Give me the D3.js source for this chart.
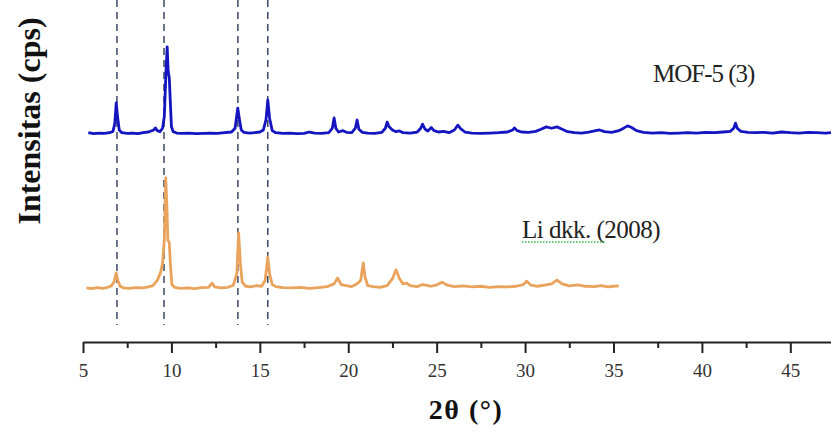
<!DOCTYPE html>
<html>
<head>
<meta charset="utf-8">
<script src="https://cdn.jsdelivr.net/npm/d3@7"></script>
<style>
  body { margin: 0; background: #fff; }
  svg { display: block; }
</style>
</head>
<body>
<div id="viz"></div>
<script>
// Data: 2theta (deg) and displayed intensity (stacked, arbitrary cps).
var mofTheta = [5.3,5.6,5.9,6.2,6.5,6.7,6.8,6.88,6.95,7.05,7.2,7.5,7.8,8.1,8.4,8.7,9.0,9.1,9.2,9.35,9.5,9.6,9.7,9.76,9.82,9.88,9.94,10.0,10.1,10.3,10.6,11,11.4,11.8,12.2,12.6,13.0,13.4,13.6,13.75,13.85,13.95,14.1,14.4,14.7,15.0,15.2,15.35,15.45,15.55,15.7,15.9,16.3,16.7,17.1,17.5,17.8,18.1,18.5,18.9,19.1,19.2,19.3,19.45,19.7,19.9,20.2,20.4,20.5,20.6,20.8,21.1,21.5,21.9,22.1,22.2,22.3,22.5,22.7,22.9,23.1,23.5,23.9,24.1,24.2,24.35,24.5,24.7,24.85,25.1,25.4,25.7,26.0,26.2,26.35,26.6,27,27.5,28,28.5,29,29.3,29.4,29.55,29.8,30.2,30.6,30.9,31.2,31.5,31.8,32.1,32.4,32.8,33.2,33.6,34.0,34.2,34.5,34.9,35.3,35.6,35.8,36.0,36.3,36.7,37.2,37.7,38.2,38.7,39.2,39.7,40.2,40.7,41.2,41.6,41.8,41.9,42.0,42.2,42.6,43.0,43.5,44,44.5,45,45.5,46,46.5,47,47.3];
var mofInt = [612,609,611,610,612,616,640,699,660,620,612,610,611,609,612,614,620,626,618,615,625,660,800,863,790,772,700,630,615,611,610,611,609,610,611,610,612,614,625,684,650,620,613,611,612,614,620,650,708,655,618,612,610,611,609,610,614,611,610,612,625,655,625,614,618,613,612,625,649,622,613,611,610,613,625,643,630,620,615,617,612,611,614,625,637,622,617,627,618,614,616,612,620,634,624,614,611,610,611,612,614,620,626,618,614,613,616,622,629,625,629,622,615,612,611,614,618,620,615,613,618,626,632,628,618,613,611,612,610,611,612,611,613,612,614,616,625,640,625,616,613,612,613,611,614,612,611,613,612,611,612];

var liTheta = [5.2,5.5,5.8,6.1,6.4,6.6,6.75,6.88,6.97,7.1,7.3,7.6,8.0,8.4,8.7,8.95,9.2,9.4,9.5,9.6,9.68,9.74,9.8,9.88,9.95,10.03,10.2,10.5,10.9,11.3,11.7,12.1,12.3,12.45,12.8,13.2,13.5,13.7,13.8,13.9,14.0,14.2,14.5,14.8,15.1,15.3,15.45,15.55,15.7,15.9,16.3,16.8,17.3,17.8,18.3,18.8,19.2,19.4,19.6,19.9,20.2,20.5,20.7,20.85,20.95,21.1,21.4,21.8,22.2,22.5,22.7,22.9,23.1,23.3,23.5,23.9,24.2,24.4,24.7,25.0,25.3,25.6,26.0,26.5,27,27.5,28,28.5,29,29.5,29.9,30.1,30.3,30.7,31.1,31.5,31.8,32.1,32.5,33,33.4,33.9,34.3,34.7,35.0,35.3];
var liInt = [158,156,159,157,160,164,175,202,180,163,158,157,159,158,161,165,180,205,231,300,480,400,298,290,220,167,160,157,158,156,159,160,172,161,158,160,166,200,319,230,175,163,161,165,163,180,249,200,168,162,159,158,160,157,159,162,170,187,168,165,162,170,180,231,190,165,162,160,165,185,211,185,170,172,165,162,168,166,163,167,175,166,162,164,161,163,160,162,161,163,168,178,167,163,166,170,181,170,164,167,163,162,165,161,163,164];

var refLines = [6.92, 9.58, 13.76, 15.45];
var majorTicks = [5, 10, 15, 20, 25, 30, 35, 40, 45];
var minorTicks = [7.5, 12.5, 17.5, 22.5, 27.5, 32.5, 37.5, 42.5];

var W = 831, H = 439;
var serif = "'Liberation Serif', 'Times New Roman', serif";
var svg = d3.select("#viz").append("svg")
  .attr("width", W)
  .attr("height", H);

var x = d3.scaleLinear().domain([5, 47.3]).range([83, 831]);
var y = d3.scaleLinear().domain([0, 1000]).range([342, 0]);

// Dashed reference lines.
svg.selectAll(".ref").data(refLines).enter().append("line")
  .attr("x1", function(d) { return x(d); })
  .attr("x2", function(d) { return x(d); })
  .attr("y1", 0)
  .attr("y2", 325)
  .style("stroke", "#2b3a5c")
  .style("stroke-width", 1.4)
  .style("stroke-dasharray", "7,5");

var line = d3.line()
  .x(function(d) { return x(d[0]); })
  .y(function(d) { return y(d[1]); });

svg.append("path")
  .datum(d3.zip(liTheta, liInt))
  .attr("d", line)
  .style("fill", "none")
  .style("stroke", "#e9a35c")
  .style("stroke-width", 2.8)
  .style("stroke-linejoin", "round");

svg.append("path")
  .datum(d3.zip(mofTheta, mofInt))
  .attr("d", line)
  .style("fill", "none")
  .style("stroke", "#1414c0")
  .style("stroke-width", 2.8)
  .style("stroke-linejoin", "round");

// X axis.
var axis = svg.append("g")
  .attr("transform", "translate(0,342)")
  .call(d3.axisBottom(x).tickValues(majorTicks).tickSize(11).tickSizeOuter(0).tickPadding(11)
    .tickFormat(d3.format("d")));
axis.select(".domain").style("stroke", "#222").style("stroke-width", 2);
axis.selectAll(".tick line").style("stroke", "#222").style("stroke-width", 2);
axis.selectAll(".tick text")
  .style("font-family", serif)
  .style("font-size", "19px")
  .style("fill", "#333");

var minor = svg.append("g")
  .attr("transform", "translate(0,342)")
  .call(d3.axisBottom(x).tickValues(minorTicks).tickSize(6).tickSizeOuter(0).tickFormat(""));
minor.select(".domain").remove();
minor.selectAll(".tick line").style("stroke", "#222").style("stroke-width", 2);

// Axis titles.
svg.append("text")
  .attr("x", 466)
  .attr("y", 419)
  .attr("text-anchor", "middle")
  .style("font-family", serif)
  .style("font-weight", "bold")
  .style("font-size", "28px")
  .style("letter-spacing", "1.5px")
  .style("fill", "#111")
  .text("2θ (°)");

svg.append("text")
  .attr("transform", "translate(40,121) rotate(-90)")
  .attr("text-anchor", "middle")
  .style("font-family", serif)
  .style("font-weight", "bold")
  .style("font-size", "32px")
  .style("fill", "#111")
  .text("Intensitas (cps)");

// Series labels.
svg.append("text")
  .attr("x", 653)
  .attr("y", 82)
  .style("font-family", serif)
  .style("font-size", "25px")
  .style("letter-spacing", "-1px")
  .style("fill", "#222")
  .text("MOF-5 (3)");

svg.append("text")
  .attr("x", 522)
  .attr("y", 238)
  .style("font-family", serif)
  .style("font-size", "25px")
  .style("letter-spacing", "-0.5px")
  .style("fill", "#222")
  .text("Li dkk. (2008)");

// Spell-check underline under "Li dkk."
svg.append("line")
  .attr("x1", 522).attr("x2", 606)
  .attr("y1", 242).attr("y2", 242)
  .style("stroke", "#3cb54a")
  .style("stroke-width", 1.3)
  .style("stroke-dasharray", "1.5,1.5");
</script>
</body>
</html>
